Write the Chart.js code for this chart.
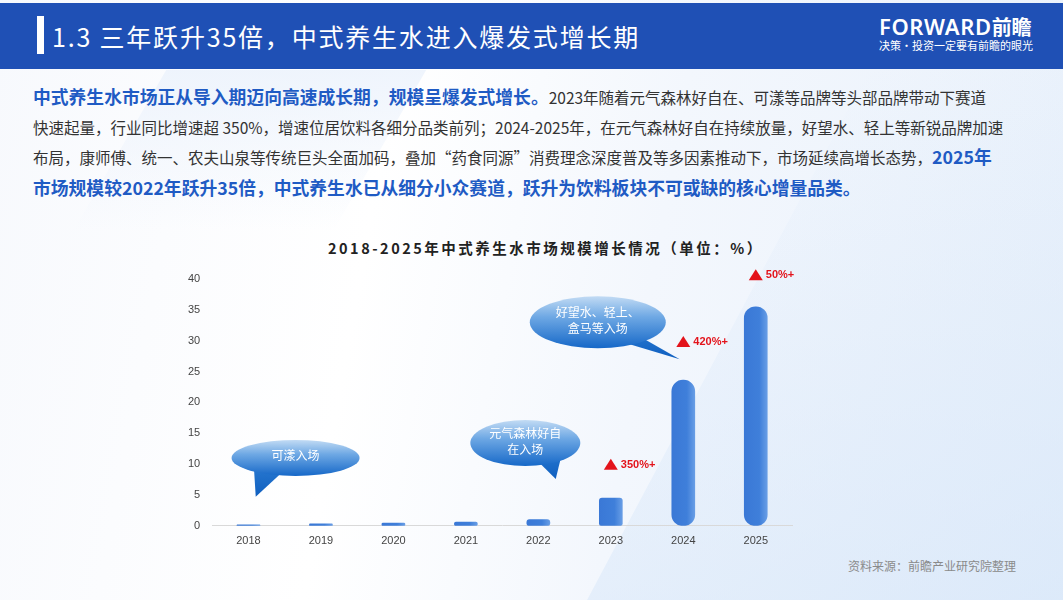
<!DOCTYPE html>
<html>
<head>
<meta charset="utf-8">
<script src="https://cdn.jsdelivr.net/npm/chart.js@4.4.1/dist/chart.umd.min.js"></script>
<style>
  html, body { margin: 0; padding: 0; }
  body {
    width: 1063px; height: 600px; position: relative; overflow: hidden;
    font-family: "Noto Sans CJK SC", "Noto Sans", sans-serif;
    background: linear-gradient(100deg, #f7f9fd 0%, #ffffff 35%, #f3f7fd 60%, #e9f1fb 100%);
  }
  .shape1 {
    position: absolute; left: 720px; top: 70px; width: 480px; height: 560px;
    background: linear-gradient(160deg, rgba(220,234,250,0.0) 0%, rgba(214,230,249,0.7) 100%);
    transform: skewX(-28deg);
  }
  .shape2 {
    position: absolute; left: 120px; top: 70px; width: 260px; height: 160px;
    background: linear-gradient(180deg, rgba(235,242,252,0.8), rgba(255,255,255,0));
    transform: skewX(-30deg);
  }
  .header {
    position: absolute; left: 0; top: 3px; width: 1063px; height: 66px;
    background: #1f50b5;
  }
  .bar {
    position: absolute; left: 37px; top: 16px; width: 7px; height: 38px; background: #fff;
  }
  .title {
    position: absolute; left: 52px; top: 19px; color: #fff; font-size: 25px; line-height: 34px;
    letter-spacing: 1.8px; white-space: nowrap;
  }
  .logo {
    position: absolute; left: 879px; top: 13px; color: #fff; font-family: "Noto Sans", sans-serif;
    font-size: 22px; font-weight: 600; line-height: 26px; letter-spacing: 0.6px; white-space: nowrap;
  }
  .logo span { font-family: "Noto Sans CJK SC"; font-weight: 700; font-size: 20px; letter-spacing: 0; }
  .slogan {
    position: absolute; left: 879px; top: 38px; color: #fff; font-size: 11px; line-height: 14px;
  }
  .text {
    position: absolute; left: 33px; top: 82px; color: #333;
    font-size: 15.5px; line-height: 29.7px; white-space: nowrap;
  }
  .text b { color: #1f5bc4; font-weight: 700; font-size: 17.8px; }
  .source {
    position: absolute; left: 848px; top: 557px; color: #8a8a8a; font-size: 12px;
  }
  .ctitle {
    position: absolute; left: 328px; top: 237px; color: #222; font-size: 14.5px; font-weight: 700;
    letter-spacing: 2.5px; white-space: nowrap; line-height: 22px;
  }
  #wrap { position: absolute; left: 176px; top: 235px; width: 626px; height: 322px; }
</style>
</head>
<body>
<div class="shape1"></div>
<div class="shape2"></div>
<div class="header"></div>
<div class="bar"></div>
<div class="title">1.3 三年跃升35倍，中式养生水进入爆发式增长期</div>
<div class="logo">FORWARD<span>前瞻</span></div>
<div class="slogan">决策·投资一定要有前瞻的眼光</div>
<div class="text"><b>中式养生水市场正从导入期迈向高速成长期，规模呈爆发式增长。</b>2023年随着元气森林好自在、可漾等品牌等头部品牌带动下赛道<br>快速起量，行业同比增速超 350%，增速位居饮料各细分品类前列；2024-2025年，在元气森林好自在持续放量，好望水、轻上等新锐品牌加速<br>布局，康师傅、统一、农夫山泉等传统巨头全面加码，叠加“药食同源”消费理念深度普及等多因素推动下，市场延续高增长态势，<b>2025年</b><br><b>市场规模较2022年跃升35倍，中式养生水已从细分小众赛道，跃升为饮料板块不可或缺的核心增量品类。</b></div>
<div class="source">资料来源：前瞻产业研究院整理</div>
<div class="ctitle">2018-2025年中式养生水市场规模增长情况（单位：%）</div>
<div id="wrap"><canvas id="marketChart"></canvas></div>

<script>
/* ============================================================
   DATA
   ============================================================ */
const years = ["2018", "2019", "2020", "2021", "2022", "2023", "2024", "2025"];
const marketSize = [0.15, 0.3, 0.45, 0.6, 1.0, 4.5, 23.6, 35.5];
const yTicks = [0, 5, 10, 15, 20, 25, 30, 35, 40];

// growth labels: bar index, value where the label sits, text
const growthIdx = [5, 6, 7];
const growthAt = [9.9, 29.8, 40.6];
const growthText = ["350%+", "420%+", "50%+"];

// callouts: text lines, bubble centre and tail tip in data units (index, value)
const calloutText = [["可漾入场"], ["元气森林好自", "在入场"], ["好望水、轻上、", "盒马等入场"]];
const calloutCenter = [[0.65, 11.0], [3.82, 13.4], [4.82, 33.0]];
const calloutTip = [[0.1, 4.7], [4.24, 7.6], [5.95, 27.0]];
const calloutSize = [[64, 18], [55, 23], [68, 26]];

/* ============================================================
   CALLOUT + GROWTH PLUGIN
   ============================================================ */
const notesPlugin = {
    id: "notes",
    afterDatasetsDraw(chart) {
        const ctx = chart.ctx;
        const xs = chart.scales.x, ys = chart.scales.y;

        calloutText.forEach((lines, i) => {
            const cx = xs.getPixelForValue(calloutCenter[i][0]);
            const cy = ys.getPixelForValue(calloutCenter[i][1]);
            const tx = xs.getPixelForValue(calloutTip[i][0]);
            const ty = ys.getPixelForValue(calloutTip[i][1]);
            const [rx, ry] = calloutSize[i];

            const grad = ctx.createLinearGradient(0, cy - ry, 0, cy + ry);
            grad.addColorStop(0, "#c2dbf4");
            grad.addColorStop(0.4, "#6ea8e4");
            grad.addColorStop(1, "#1668c8");

            ctx.save();
            // tail first so the bubble covers its base
            const dir = tx < cx ? -1 : 1;
            const tg = ctx.createLinearGradient(0, cy, 0, ty);
            tg.addColorStop(0, "#2f7fd4");
            tg.addColorStop(1, "#0f5fc0");
            ctx.fillStyle = tg;
            ctx.beginPath();
            ctx.moveTo(cx + dir * rx * 0.15, cy + ry * 0.6);
            ctx.lineTo(cx + dir * rx * 0.65, cy + ry * 0.6);
            ctx.lineTo(tx, ty);
            ctx.closePath();
            ctx.fill();

            ctx.fillStyle = grad;
            ctx.beginPath();
            ctx.ellipse(cx, cy, rx, ry, 0, 0, Math.PI * 2);
            ctx.fill();

            ctx.fillStyle = "#ffffff";
            ctx.font = "12px 'Noto Sans CJK SC'";
            ctx.textAlign = "center";
            ctx.textBaseline = "middle";
            const lh = 16;
            lines.forEach((ln, k) => {
                ctx.fillText(ln, cx, cy - (lines.length - 1) * lh / 2 + k * lh - 2);
            });
            ctx.restore();
        });

        growthIdx.forEach((idx, i) => {
            const x = xs.getPixelForValue(idx);
            const y = ys.getPixelForValue(growthAt[i]);
            ctx.save();
            ctx.fillStyle = "#e3131b";
            ctx.beginPath();
            ctx.moveTo(x, y - 6);
            ctx.lineTo(x + 7, y + 5);
            ctx.lineTo(x - 7, y + 5);
            ctx.closePath();
            ctx.fill();
            ctx.font = "bold 11px 'Liberation Sans'";
            ctx.textAlign = "left";
            ctx.textBaseline = "middle";
            ctx.fillText(growthText[i], x + 10, y);
            ctx.restore();
        });
    }
};

/* ============================================================
   DRAW CHART
   ============================================================ */
function drawMarketChart() {
    const el = document.getElementById("marketChart");

    new Chart(el, {
        type: "bar",
        data: {
            labels: years,
            datasets: [{
                data: marketSize,
                barThickness: 23,
                borderRadius: (c) => (c.raw > 10 ? 11.5 : 3),
                borderSkipped: false,
                backgroundColor: (c) => {
                    const chart = c.chart;
                    if (!chart.chartArea || !chart.scales.x) return "#3d7dd9";
                    const x = chart.scales.x.getPixelForValue(c.dataIndex);
                    const g = chart.ctx.createLinearGradient(x - 12, 0, x + 12, 0);
                    g.addColorStop(0, "#3a78d6");
                    g.addColorStop(0.65, "#3f7fda");
                    g.addColorStop(1, "#6a9fe6");
                    return g;
                }
            }]
        },
        options: {
            responsive: true,
            maintainAspectRatio: false,
            animation: false,
            layout: { padding: { left: 0, right: 10, top: 44, bottom: 0 } },
            plugins: {
                legend: { display: false },
                tooltip: { enabled: false }
            },
            scales: {
                x: {
                    grid: { display: false, drawTicks: false },
                    border: { color: "#d9d9d9" },
                    ticks: { color: "#444", font: { family: "'Liberation Sans'", size: 11 }, padding: 9 }
                },
                y: {
                    min: 0,
                    max: 40,
                    afterBuildTicks: (axis) => { axis.ticks = yTicks.map(v => ({ value: v })); },
                    grid: { display: false, drawTicks: false },
                    border: { display: false },
                    ticks: { color: "#444", font: { family: "'Liberation Sans'", size: 11 }, padding: 12 }
                }
            }
        },
        plugins: [notesPlugin]
    });
}

drawMarketChart();
</script>
</body>
</html>
